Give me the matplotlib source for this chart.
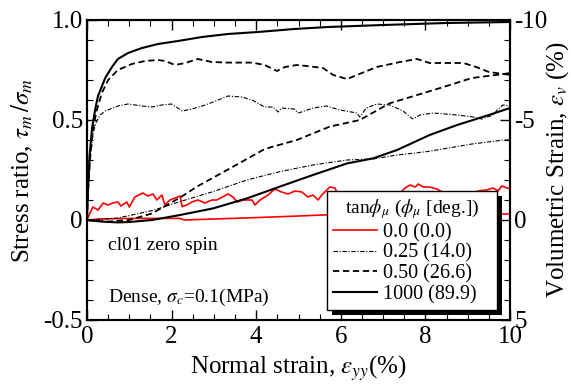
import matplotlib
matplotlib.use("Agg")
import matplotlib.pyplot as plt
from matplotlib.lines import Line2D
from matplotlib.ticker import MultipleLocator, FixedLocator, FixedFormatter
import matplotlib.patheffects as pe

plt.rcParams['font.family'] = ['Liberation Serif', 'DejaVu Serif']
plt.rcParams['mathtext.fontset'] = 'stix'
plt.rcParams['axes.unicode_minus'] = False

# ---------------- data ----------------
# stress ratio (left axis)
s1000_x = [0, 0.02, 0.06, 0.12, 0.2, 0.26, 0.43, 0.59, 0.73, 0.97, 1.3, 1.68, 2.15, 2.72, 3.33,
           4.04, 4.9, 5.7, 7.0, 8.5, 10]
s1000_y = [0, 0.15, 0.32, 0.46, 0.56, 0.62, 0.71, 0.765, 0.805, 0.835, 0.86, 0.88, 0.895, 0.915,
           0.93, 0.94, 0.955, 0.965, 0.975, 0.985, 0.99]

s050_x = [0, 0.02, 0.07, 0.14, 0.22, 0.35, 0.5, 0.73, 1.06, 1.37, 1.68, 1.85, 2.08, 2.32, 2.62,
          2.95, 3.33, 3.9, 4.2, 4.49, 4.68, 4.96, 5.2, 5.58, 5.82, 6.15, 6.38, 6.85, 7.4, 7.8,
          8.1, 8.9, 9.2, 9.5, 9.85, 10]
s050_y = [0, 0.12, 0.3, 0.45, 0.54, 0.635, 0.70, 0.75, 0.78, 0.795, 0.80, 0.795, 0.775, 0.785,
          0.805, 0.79, 0.787, 0.787, 0.775, 0.745, 0.765, 0.775, 0.77, 0.76, 0.725, 0.705, 0.725,
          0.765, 0.79, 0.805, 0.785, 0.785, 0.765, 0.74, 0.73, 0.725]

s025_x = [0, 0.03, 0.08, 0.15, 0.22, 0.31, 0.43, 0.73, 0.97, 1.3, 1.54, 1.77, 2.0, 2.25, 2.48,
          2.8, 3.1, 3.33, 3.66, 3.9, 4.2, 4.4, 4.52, 4.6, 4.9, 5.0, 5.35, 5.66, 5.98, 6.38, 6.45,
          6.6, 6.85, 7.16, 7.47, 7.7, 7.87, 8.18, 8.75, 9.13, 9.33, 9.6, 9.7, 9.83, 10]
s025_y = [0, 0.15, 0.32, 0.44, 0.49, 0.525, 0.545, 0.57, 0.58, 0.57, 0.565, 0.575, 0.58, 0.545,
          0.555, 0.575, 0.6, 0.62, 0.615, 0.6, 0.565, 0.565, 0.54, 0.56, 0.555, 0.535, 0.56, 0.57,
          0.55, 0.535, 0.515, 0.56, 0.58, 0.575, 0.545, 0.505, 0.525, 0.535, 0.525, 0.515, 0.505,
          0.525, 0.55, 0.575, 0.57]

s000_x = [0, 0.07, 0.14, 0.26, 0.38, 0.5, 0.61, 0.73, 0.8, 0.94, 1.0, 1.13, 1.32, 1.44, 1.56,
          1.65, 1.77, 1.84, 1.96, 2.08, 2.2, 2.25, 2.36, 2.48, 2.62, 2.79, 2.95, 3.07, 3.2, 3.33,
          3.45, 3.55, 3.69, 3.9, 3.97, 4.09, 4.28, 4.44, 4.6, 4.75, 4.92, 5.08, 5.22, 5.34, 5.46,
          5.55, 5.67, 5.74, 5.86, 5.93, 6.1, 6.28, 6.52, 6.85, 7.09, 7.23, 7.4, 7.52, 7.64, 7.76,
          7.83, 7.95, 8.1, 8.27, 8.4, 8.7, 9.1, 9.3, 9.45, 9.6, 9.72, 9.8, 9.93, 10]
s000_y = [0, 0.035, 0.065, 0.05, 0.085, 0.075, 0.085, 0.09, 0.07, 0.09, 0.065, 0.115, 0.135,
          0.12, 0.13, 0.1, 0.125, 0.075, 0.1, 0.11, 0.12, 0.067, 0.075, 0.09, 0.1, 0.085, 0.1,
          0.1, 0.115, 0.13, 0.115, 0.09, 0.1, 0.1, 0.075, 0.1, 0.125, 0.155, 0.14, 0.13, 0.145,
          0.14, 0.115, 0.125, 0.1, 0.125, 0.15, 0.165, 0.16, 0.13, 0.12, 0.135, 0.135, 0.135,
          0.135, 0.14, 0.135, 0.16, 0.175, 0.165, 0.18, 0.165, 0.165, 0.155, 0.14, 0.12, 0.135,
          0.147, 0.15, 0.16, 0.145, 0.17, 0.16, 0.155]

# volumetric strain (right axis, %)
v1000_x = [0, 0.35, 0.73, 1.0, 1.54, 2.2, 2.98, 3.78, 4.56, 5.34, 6.15, 6.76, 7.33, 8.1, 8.75, 9.5, 10]
v1000_y = [0, 0.08, 0.12, 0.1, 0.0, -0.25, -0.58, -1.08, -1.67, -2.25, -2.83, -3.08, -3.5,
           -4.25, -4.75, -5.25, -5.6]

v050_x = [0, 0.5, 1.0, 1.54, 2.2, 2.6, 3.38, 4.16, 4.33, 4.96, 5.74, 6.45, 7.15, 8.35, 9.1, 9.85, 10]
v050_y = [0, 0.08, 0.0, -0.33, -1.12, -1.67, -2.58, -3.5, -3.63, -4.0, -4.67, -5.0, -5.83, -6.6,
          -7.1, -7.3, -7.35]

v025_x = [0, 0.73, 1.54, 2.2, 2.98, 3.78, 4.56, 5.34, 6.15, 6.76, 7.33, 8.04, 9.1, 9.85, 10]
v025_y = [0, -0.1, -0.47, -0.92, -1.42, -2.0, -2.42, -2.75, -3.0, -3.05, -3.25, -3.42, -3.8,
          -4.0, -4.0]

v000_x = [0, 0.3, 1.0, 2.2, 2.3, 3.0, 4.0, 5.0, 5.8, 9.6, 10]
v000_y = [0, -0.05, -0.08, -0.08, 0.0, -0.05, -0.12, -0.2, -0.27, -0.3, -0.3]

legend_labels = ["0.0 (0.0)", "0.25 (14.0)", "0.50 (26.6)", "1000 (89.9)"]
x_ticks = [0, 2, 4, 6, 8, 10]
left_ticks = [-0.5, 0, 0.5, 1.0]
left_ticklabels = ["-0.5", "0", "0.5", "1.0"]
right_ticks = [-10, -5, 0, 5]
right_ticklabels = ["-10", "-5", "0", "5"]

# ---------------- styles ----------------
red_kw = dict(color='#ff0000', lw=1.2, linestyle='-')
dd_kw = dict(color='black', lw=0.8, linestyle=(0, (4, 1.5, 1, 1.5)))
da_kw = dict(color='black', lw=1.3, linestyle=(0, (3.5, 2)))
so_kw = dict(color='black', lw=1.5, linestyle='-')

fig = plt.figure(figsize=(5.71, 3.87), dpi=100)
ax = fig.add_axes([87 / 571, 1 - 320 / 387, 423 / 571, 300 / 387])
ax2 = ax.twinx()

ax.plot(s000_x, s000_y, **red_kw)
ax.plot(s025_x, s025_y, **dd_kw)
ax.plot(s050_x, s050_y, **da_kw)
ax.plot(s1000_x, s1000_y, **so_kw)

ax2.plot(v000_x, v000_y, **red_kw)
ax2.plot(v025_x, v025_y, **dd_kw)
ax2.plot(v050_x, v050_y, **da_kw)
ax2.plot(v1000_x, v1000_y, **so_kw)

ax.set_xlim(0, 10)
ax.set_ylim(-0.5, 1.0)
ax2.set_ylim(5, -10)

ax.xaxis.set_major_locator(FixedLocator(x_ticks))
ax.xaxis.set_minor_locator(MultipleLocator(0.5))
ax.yaxis.set_major_locator(FixedLocator(left_ticks))
ax.yaxis.set_major_formatter(FixedFormatter(left_ticklabels))
ax.yaxis.set_minor_locator(MultipleLocator(0.1))
ax2.yaxis.set_major_locator(FixedLocator(right_ticks))
ax2.yaxis.set_major_formatter(FixedFormatter(right_ticklabels))
ax2.yaxis.set_minor_locator(MultipleLocator(1))

ax.tick_params(axis='x', which='both', direction='in', top=True, bottom=True, labelsize=18, pad=4)
ax.tick_params(axis='y', which='both', direction='in', left=True, right=False, labelsize=18, pad=3)
ax2.tick_params(axis='y', which='both', direction='in', right=True, left=False, labelsize=18, pad=3)
for a in (ax, ax2):
    a.tick_params(which='major', length=7, width=1.0)
    a.tick_params(which='minor', length=4, width=0.8)
    for s in a.spines.values():
        s.set_linewidth(1.5)

ax.set_xlabel(r"Normal strain, $\varepsilon_{yy}$(%)", fontsize=18, labelpad=4)
ax.set_ylabel(r"Stress ratio, $\tau_m\,/\sigma_m$", fontsize=18, labelpad=6)
ax2.set_ylabel(r"Volumetric Strain, $\varepsilon_v$ (%)", fontsize=18, labelpad=-2)

ax.text(0.5, -0.13, "cl01 zero spin", fontsize=14, va='center', ha='left')
ax.text(0.5, -0.385, r"Dense, $\sigma_c$=0.1(MPa)", fontsize=14, va='center', ha='left')

handles = [Line2D([], [], **red_kw), Line2D([], [], **dd_kw),
           Line2D([], [], **da_kw), Line2D([], [], **so_kw)]
leg = ax2.legend(handles, legend_labels, title=r"tan$\phi_\mu$ ($\phi_\mu$ [deg.])",
                 loc='lower left', bbox_to_anchor=(0.567, 0.033, 0.402, 0.39), mode='expand',
                 borderaxespad=0, fancybox=False, edgecolor='black', framealpha=1,
                 fontsize=14.5, title_fontsize=14, handlelength=2.2, handletextpad=0.3,
                 labelspacing=0.07, borderpad=0.3)
leg.get_frame().set_linewidth(1.0)
leg.get_frame().set_path_effects([pe.SimplePatchShadow(offset=(3.5, -3.5), shadow_rgbFace='black', alpha=1.0),
                                  pe.Normal()])

fig.savefig("out.png", dpi=100)
